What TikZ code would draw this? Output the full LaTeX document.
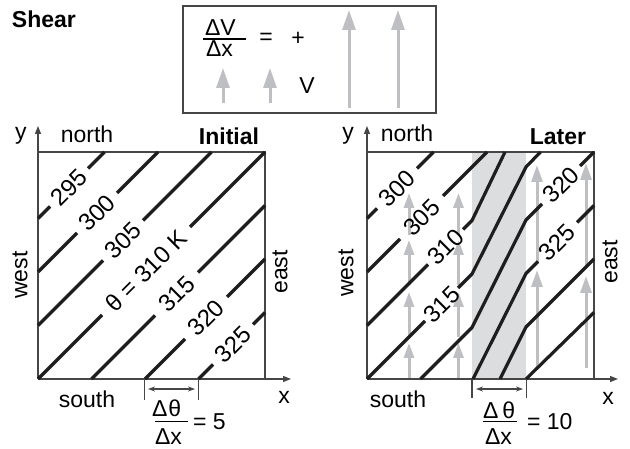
\documentclass[tikz,border=0pt]{standalone}
\usepackage{fontspec}
\setmainfont{Liberation Sans}
\usetikzlibrary{arrows.meta}
\definecolor{arrowgray}{RGB}{190,191,194}
\definecolor{bandgray}{RGB}{220,221,223}
\definecolor{isoline}{RGB}{30,30,30}
\definecolor{framecol}{RGB}{70,70,70}
\begin{document}
\begin{tikzpicture}[x=1pt,y=-1pt,
  every node/.style={font=\fontsize{23}{27}\selectfont, inner sep=0pt, outer sep=0pt},
  iso/.style={line width=3.2pt, draw=isoline},
  frm/.style={line width=1.3pt, draw=framecol},
  axis/.style={line width=1.3pt, draw=framecol, -{Triangle[length=8pt,width=6pt]}},
  varrow/.style={line width=3pt, draw=arrowgray, -{Triangle[length=15pt,width=10pt]}},
  bigarrow/.style={line width=3pt, draw=arrowgray, -{Triangle[length=17pt,width=11pt]}},
  keyarrow/.style={line width=3pt, draw=arrowgray, -{Triangle[length=20pt,width=13pt]}},
  isolabel/.style={rotate=45, font=\fontsize{24}{28}\selectfont},
  dimline/.style={line width=1.2pt, draw=framecol, {Stealth[length=7pt,width=5pt]}-{Stealth[length=7pt,width=5pt]}},
  dimtick/.style={line width=1.2pt, draw=framecol},
  boldlabel/.style={font=\fontsize{23}{27}\selectfont\bfseries},
]
\useasboundingbox (0,0) rectangle (630,449);

% ---------- title and key ----------
\node[boldlabel, anchor=base west] (shear) at (12,28) {Shear};
\draw[frm] (183,6) rectangle (436,113);
\node[anchor=base west] (dv) at (205,36) {ΔV};
\node[anchor=base west] (dx) at (206,57) {Δx};
\draw[line width=1.2pt] (203,39) -- (246,39);
\node (eq) at (266,39) {=};
\node (plus) at (298,39) {+};
\node (vlab) at (307,86) {V};
\coordinate (ka1) at (223,103); \coordinate (ka1t) at (223,68);
\coordinate (ka2) at (270,103); \coordinate (ka2t) at (270,68);
\coordinate (kb1) at (349,108); \coordinate (kb1t) at (349,10);
\coordinate (kb2) at (398,108); \coordinate (kb2t) at (398,10);
\draw[keyarrow] (ka1) -- (ka1t);
\draw[keyarrow] (ka2) -- (ka2t);
\draw[keyarrow] (kb1) -- (kb1t);
\draw[keyarrow] (kb2) -- (kb2t);

% ---------- left panel: Initial ----------
\coordinate (LO) at (38,379);
\draw[frm] (38,152) -- (265,152) -- (265,379);
\draw[axis] (LO) -- (38,126);
\draw[axis] (LO) -- (291,379);
\node[anchor=base] (ly) at (21,140) {y};
\node[anchor=base] (lnorth) at (87,143) {north};
\node[boldlabel, anchor=base] (linit) at (229,145) {Initial};
\node[anchor=base] (lsouth) at (87,408) {south};
\node[anchor=base] (lx) at (284,403) {x};
\node[rotate=90] (lwest) at (20,275) {west};
\node[rotate=90] (least) at (280,272) {east};

% isentropes
\draw[iso] (38,218.5) -- (50,206.5);
\draw[iso] (88,168.5) -- (104.5,152);
\node[isolabel] (i295) at (69,187.5) {295};
\draw[iso] (38,272) -- (77,233);
\draw[iso] (117,193) -- (158,152);
\node[isolabel] (i300) at (97,213) {300};
\draw[iso] (38,325.5) -- (103,260.5);
\draw[iso] (143,220.5) -- (211.5,152);
\node[isolabel] (i305) at (123,240.5) {305};
\draw[iso] (38,379) -- (102,315);
\draw[iso] (190,227) -- (265,152);
\node[isolabel] (i310) at (146,271) {θ = 310 K};
\draw[iso] (91.5,379) -- (155,315.5);
\draw[iso] (198,272.5) -- (265,205.5);
\node[isolabel] (i315) at (176.5,294) {315};
\draw[iso] (145,379) -- (185,339);
\draw[iso] (227,297) -- (265,259);
\node[isolabel] (i320) at (206,318) {320};
\draw[iso] (198.5,379) -- (213,364.5);
\draw[iso] (253,324.5) -- (265,312.5);
\node[isolabel] (i325) at (233,344.5) {325};

% gradient marker
\coordinate (lt1) at (144.5,379); \coordinate (lt1b) at (144.5,400);
\coordinate (lt2) at (198.5,379); \coordinate (lt2b) at (198.5,400);
\draw[dimtick] (lt1) -- (lt1b);
\draw[dimtick] (lt2) -- (lt2b);
\draw[dimline] (148,389) -- (195,389);
\node[anchor=base west] (ldt) at (152,417) {Δ\kern1ptθ};
\draw[line width=1.2pt] (155,421.5) -- (188,421.5);
\node[anchor=base west] (ldx) at (155,445) {Δx};
\node[anchor=west] (leq) at (193,421.5) {= 5};

% ---------- right panel: Later ----------
\fill[bandgray] (472,152) rectangle (526,379);
\coordinate (RO) at (367,379);
% wind arrows
\foreach \xx in {409,458.5}{
  \draw[varrow] (\xx,235) -- (\xx,193);
  \draw[varrow] (\xx,285) -- (\xx,240);
  \draw[varrow] (\xx,337) -- (\xx,292);
  \draw[varrow] (\xx,379) -- (\xx,343);
}
\draw[bigarrow] (537,262) -- (537,165);
\draw[bigarrow] (537,368) -- (537,270);
\draw[bigarrow] (586,268) -- (586,163);
\draw[bigarrow] (586,368) -- (586,276);

\draw[frm] (367,152) -- (594,152) -- (594,379);
\draw[axis] (RO) -- (367,126);
\draw[axis] (RO) -- (618,379);
\node[anchor=base] (ry) at (348,140) {y};
\node[anchor=base] (rnorth) at (407,142) {north};
\node[boldlabel, anchor=base] (rlater) at (558,145) {Later};
\node[anchor=base] (rsouth) at (398,408) {south};
\node[anchor=base] (rx) at (608,405) {x};
\node[rotate=90] (rwest) at (346,273) {west};
\node[rotate=90] (reast) at (610,262) {east};

% isentropes
\draw[iso] (367,218.5) -- (377,208.5);
\draw[iso] (417,168.5) -- (433.5,152);
\node[isolabel] (j300) at (397,188.5) {300};
\draw[iso] (367,272) -- (400,239);
\draw[iso] (443,196) -- (487,152);
\node[isolabel] (j305) at (421.5,217.5) {305};
\draw[iso] (367,325.5) -- (428,264.5);
\draw[iso] (463,229.5) -- (472,220.5) -- (505,152);
\node[isolabel] (j310) at (445.5,247) {310};
\draw[iso] (367,379) -- (425,321);
\draw[iso] (458,288) -- (472,274) -- (526,167) -- (540.5,152);
\node[isolabel] (j315) at (441.5,304.5) {315};
\draw[iso] (420.5,379) -- (472,327.5) -- (526,220) -- (542,204);
\draw[iso] (580,166) -- (594,152);
\node[isolabel] (j320) at (561,185) {320};
\draw[iso] (473,379) -- (526,273.5) -- (538,261.5);
\draw[iso] (577,222.5) -- (594,205.5);
\node[isolabel] (j325) at (557,242.5) {325};
\draw[iso] (500,379) -- (526,327) -- (594,259);
\draw[iso] (526,379) -- (594,312.5);

% gradient marker
\coordinate (rt1) at (472,379); \coordinate (rt1b) at (472,398);
\coordinate (rt2) at (526.5,379); \coordinate (rt2b) at (526.5,398);
\draw[dimtick] (rt1) -- (rt1b);
\draw[dimtick] (rt2) -- (rt2b);
\draw[dimline] (476,389) -- (523,389);
\node[anchor=base west] (rdt) at (483,418) {Δ\kern4ptθ};
\draw[line width=1.2pt] (483,421.5) -- (517,421.5);
\node[anchor=base west] (rdx) at (485,445) {Δx};
\node[anchor=west] (req) at (527,421.5) {= 10};
\end{tikzpicture}
\end{document}
